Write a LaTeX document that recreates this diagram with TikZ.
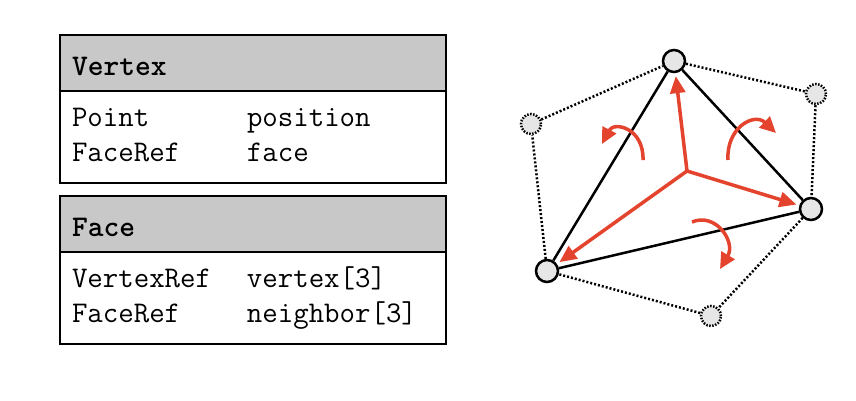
\documentclass[tikz,border=0pt]{standalone}
\usepackage{fontspec}
\usetikzlibrary{arrows.meta,positioning}
\definecolor{HeadGray}{HTML}{C8C8C8}
\definecolor{NodeGray}{HTML}{E6E6E6}
\definecolor{FlipRed}{HTML}{E4442E}
\newcommand{\fieldfont}{\ttfamily\fontsize{30}{35}\selectfont}

\begin{document}
\begin{tikzpicture}[
  x=1pt, y=-1pt,
  head/.style={draw,line width=2.5pt,fill=HeadGray,outer sep=0pt,minimum width=386pt,minimum height=56pt,
    text width=362pt,inner xsep=12pt,align=left,text height=24pt,text depth=0pt,font=\fieldfont\bfseries},
  body/.style={draw,line width=2.5pt,fill=white,outer sep=0pt,minimum width=386pt,minimum height=92pt,
    text width=362pt,inner xsep=12pt,align=left,font=\fieldfont},
  vtx/.style={circle,draw,line width=2.5pt,fill=NodeGray,minimum size=22pt,inner sep=0pt},
  ghost/.style={circle,draw,line width=2.5pt,dash pattern=on 1.5pt off 1.5pt,fill=NodeGray,minimum size=20pt,inner sep=0pt},
  hull/.style={line width=2.5pt,dash pattern=on 2pt off 2pt},
  edge/.style={line width=2.5pt},
  spoke/.style={-{Triangle[length=17pt,width=15pt]},line width=3.5pt,draw=FlipRed,color=FlipRed,shorten >=3pt},
  turn/.style={-{Triangle[length=16pt,width=15pt]},line width=3.5pt,draw=FlipRed,color=FlipRed}
]
  \useasboundingbox[fill=white] (0,0) rectangle (856,400);

  % record layouts
  \node[head,anchor=north west] (vhead) at (60,35) {Vertex};
  \node[body,below=0pt of vhead] (vbody) {\begin{tabular}{@{}p{175pt}@{}l@{}}
    Point & position\\
    FaceRef & face
  \end{tabular}};
  \node[head,anchor=north west] (fhead) at (60,196) {Face};
  \node[body,below=0pt of fhead] (fbody) {\begin{tabular}{@{}p{175pt}@{}l@{}}
    VertexRef & vertex[3]\\
    FaceRef & neighbor[3]
  \end{tabular}};

  % mesh
  \node[vtx] (top) at (674,61) {};
  \node[vtx] (right) at (811,209) {};
  \node[vtx] (left) at (547,271) {};
  \node[ghost] (gl) at (531,124) {};
  \node[ghost] (gr) at (816,94) {};
  \node[ghost] (gb) at (711,316) {};
  \coordinate (mid) at (687,171);

  \draw[hull] (gl) -- (top) -- (gr) -- (right) -- (gb) -- (left) -- (gl);
  \draw[edge] (top) -- (right) -- (left) -- (top);

  \draw[spoke] (mid) -- (top);
  \draw[spoke] (mid) -- (right);
  \draw[spoke] (mid) -- (left);

  \draw[turn] (643,160) .. controls (644,128) and (614,121) .. (602,144);
  \draw[turn] (728,160) .. controls (726,128) and (754,112) .. (776,133);
  \draw[turn] (692,222) .. controls (716,212) and (736,242) .. (720,269);
\end{tikzpicture}
\end{document}
